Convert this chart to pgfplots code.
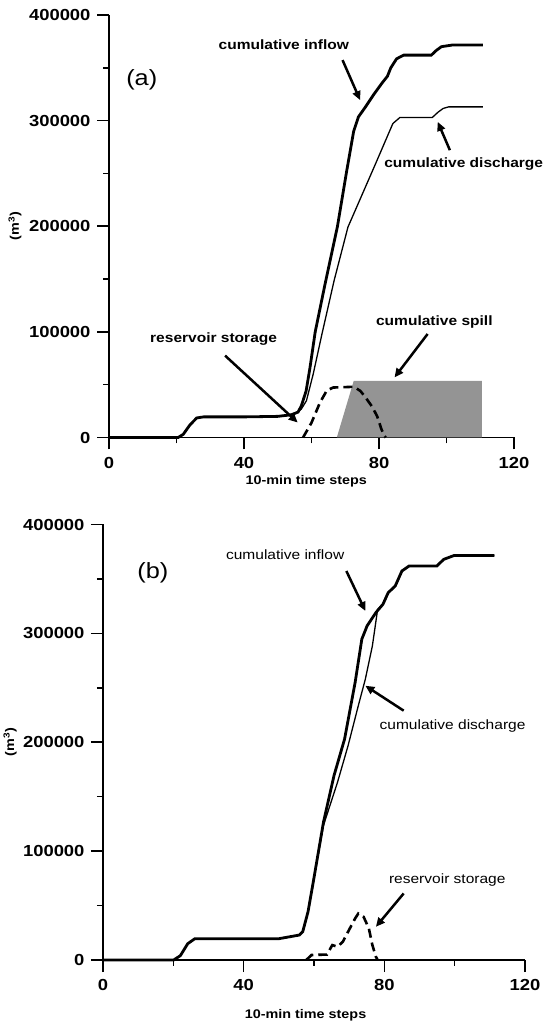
\documentclass[border=0pt]{standalone}
\usepackage{fontspec}
\setmainfont{Liberation Sans}[FakeStretch=1.15]
\usepackage{pgfplots}
\pgfplotsset{compat=1.18}
\usetikzlibrary{arrows.meta}

\pgfplotsset{
 myax/.style={
  scale only axis, xmin=0,xmax=120,ymin=0,ymax=400000,
  axis lines*=left, axis line style={line width=1.8pt},
  tick align=outside, major tick length=12pt, minor tick length=6pt,
  every tick/.style={line width=1.6pt, black},
  xtick={0,40,80,120}, minor xtick={20,60,100},
  ytick={0,100000,200000,300000,400000}, minor ytick={50000,150000,250000,350000},
  scaled y ticks=false,
  /pgf/number format/fixed, /pgf/number format/1000 sep={}, /pgf/number format/assume math mode=true,
  tick label style={font=\fontsize{16}{18}\selectfont\bfseries},
  yticklabel style={xshift=-3pt},
  xticklabel style={yshift=-4pt},
  xlabel={10-min time steps}, ylabel={(m\textsuperscript{3})},
  label style={font=\fontsize{12.5}{14}\selectfont\bfseries},
  clip=false,
 },
}
\tikzset{
 ann/.style={font=\fontsize{13.5}{15}\selectfont\bfseries, anchor=center, inner sep=0pt},
 annr/.style={font=\fontsize{13.5}{15}\selectfont, anchor=center, inner sep=0pt},
 arr/.style={line width=2.5pt, -{Triangle[length=9pt,width=8pt]}},
}

\begin{document}
\begin{tikzpicture}
\useasboundingbox (0,0) rectangle (545pt,1025pt);
% ---------------- panel (a)
\begin{axis}[myax, at={(109pt,587.5pt)}, anchor=south west, width=405pt, height=422.5pt,
  xlabel style={at={(axis description cs:0.487,-0.104)}, anchor=center},
  ylabel style={at={(axis description cs:-0.232,0.5)}, anchor=center}]
% cumulative spill
\addplot[fill=black!42, draw=none] coordinates {(67.5,0) (72.5,53500) (110.5,53500) (110.5,0)} \closedcycle;
% cumulative inflow
\addplot[line width=2.8pt, black] coordinates {
(0,0) (20.5,0) (22,3000) (24,12000) (26,18500) (28,19500) (40,19500) (50,20000) (54,21500) (56,24000) (57,30000)
(58.4,44000) (59.5,65000) (61.1,100000) (64,145000) (67.7,200000) (70.3,250000) (72.5,290000) (73.9,303500)
(76,313000) (78.5,325000) (81,336000) (82.5,342000) (83.5,350000) (85.2,358500) (87.3,362000) (95.5,362000)
(97,366500) (98.5,370000) (101.6,371500) (110.8,371500)};
% cumulative discharge
\addplot[line width=1.3pt, black] coordinates {
(0,0) (20.5,0) (22,3000) (24,12000) (26,18500) (28,19500) (40,19500) (50,20000) (54,21500) (56,24000) (57,27000)
(58.5,34800) (60.5,60000) (63.1,98000) (66.7,148600) (70.8,199200) (79,259300) (84.1,297200) (86.2,303000)
(95.8,303000) (97.5,308000) (99,311500) (100.6,313000) (110.8,313000)};
% reservoir storage
\addplot[line width=2.6pt, black, dash pattern=on 9pt off 5pt] coordinates {
(57.5,0) (60,14000) (62.5,33000) (64.5,44300) (66.4,47300) (72.6,48000) (74.5,44000) (76,38000) (78,29000)
(79.5,19800) (80.7,8000) (81.5,2000) (82,0)};
\node[ann] at (axis cs:51.8,371500) {cumulative inflow};
\node[font=\fontsize{22}{24}\selectfont, anchor=center, inner sep=0pt] at (axis cs:9.7,338300) {(a)};
\node[ann] at (axis cs:105.1,259300) {cumulative discharge};
\node[ann] at (axis cs:96.4,109100) {cumulative spill};
\node[ann] at (axis cs:31,93300) {reservoir storage};
\draw[arr] (axis cs:69.2,357300) -- (axis cs:74.4,319400);
\draw[arr] (axis cs:101,272000) -- (axis cs:97.4,298800);
\draw[arr] (axis cs:94.4,98000) -- (axis cs:84.6,56900);
\draw[arr] (axis cs:34.4,77500) -- (axis cs:55.9,14200);
\end{axis}
% ---------------- panel (b)
\begin{axis}[myax, at={(103pt,65pt)}, anchor=south west, width=422pt, height=435.5pt,
  xlabel style={at={(axis description cs:0.48,-0.126)}, anchor=center},
  ylabel style={at={(axis description cs:-0.22,0.5)}, anchor=center}]
% cumulative discharge
\addplot[line width=1.3pt, black] coordinates {
(0,0) (20.1,0) (22,4000) (24.1,15000) (26.1,19500) (30,19500) (49.9,19500) (55.8,22900) (56.8,26000)
(58.3,44300) (59.8,71800) (62.7,123700) (66.7,163400) (69.7,197000) (72.6,233600) (74.6,258000) (76.6,288500)
(78.1,322100) (79.6,326700) (81.1,337400) (83.1,343500) (85,357300) (87,361800) (94.9,361800) (96.9,368000)
(99.9,371600) (111.3,371600)};
% cumulative inflow
\addplot[line width=2.8pt, black] coordinates {
(0,0) (20.1,0) (22,4000) (24.1,15000) (26.1,19500) (30,19500) (49.9,19500) (55.8,22900) (56.8,26000)
(58.3,44300) (59.8,71800) (62.7,126700) (65.7,169500) (68.7,203000) (71.7,255000) (73.6,294700) (75.1,306900)
(77.6,319100) (79.6,326700) (81.1,337400) (83.1,343500) (85,357300) (87,361800) (94.9,361800) (96.9,368000)
(99.9,371600) (111.3,371600)};
% reservoir storage
\addplot[line width=2.6pt, black, dash pattern=on 9pt off 5pt] coordinates {
(57.8,0) (59.3,4600) (63.7,5000) (65.2,13700) (66.7,12200) (68.2,16800) (69.7,26000) (71.7,38200)
(72.6,42700) (74.1,39700) (75.6,29000) (76.6,13700) (77.6,3000) (78.1,0)};
\node[font=\fontsize{22}{24}\selectfont, anchor=center, inner sep=0pt] at (axis cs:14.2,355700) {(b)};
\node[annr] at (axis cs:51.8,372500) {cumulative inflow};
\node[annr] at (axis cs:99.4,215300) {cumulative discharge};
\node[annr] at (axis cs:97.9,73300) {reservoir storage};
\draw[arr] (axis cs:69.2,357300) -- (axis cs:74.6,320600);
\draw[arr] (axis cs:85.5,229000) -- (axis cs:74.6,251900);
\draw[arr] (axis cs:85.5,61100) -- (axis cs:77.6,30500);
\end{axis}
\end{tikzpicture}
\end{document}
